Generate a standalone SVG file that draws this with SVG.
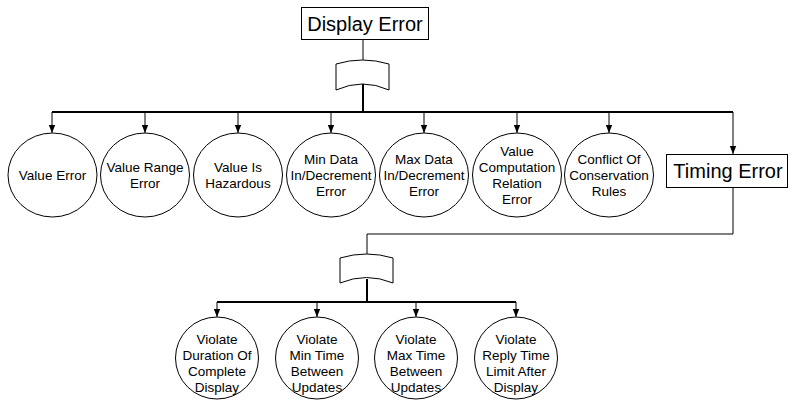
<svg xmlns="http://www.w3.org/2000/svg" width="789" height="401" viewBox="0 0 789 401">
  <style>
    .box { fill: #fff; stroke: #000; stroke-width: 1; }
    .node { fill: #fff; stroke: #000; stroke-width: 1; }
    .gate { fill: #fff; stroke: #000; stroke-width: 1; }
    .lbl { font-family: "Liberation Sans", Arial, sans-serif; font-size: 13.5px; text-anchor: middle; fill: #000; }
    .big { font-family: "Liberation Sans", Arial, sans-serif; font-size: 20px; text-anchor: middle; fill: #000; }
    .thin { fill: none; stroke: #000; stroke-width: 1; }
    .thick { fill: none; stroke: #000; stroke-width: 2; }
  </style>
  <defs>
    <marker id="arrow" viewBox="0 0 8 8" refX="8" refY="4" markerWidth="8" markerHeight="8" markerUnits="userSpaceOnUse" orient="auto">
      <path d="M0,0.8 L8,4 L0,7.2 Z" fill="#000"/>
    </marker>
  </defs>

  <g id="connectors">
    <!-- root to gate -->
    <line class="thin" x1="363" y1="40" x2="363" y2="60"/>
    <line class="thick" x1="363" y1="84" x2="363" y2="112"/>
    <line class="thick" x1="52" y1="112" x2="733" y2="112"/>
    <!-- drops to first-level children -->
    <line class="thin" x1="52" y1="112" x2="52" y2="133" marker-end="url(#arrow)"/>
    <line class="thin" x1="145" y1="112" x2="145" y2="133" marker-end="url(#arrow)"/>
    <line class="thin" x1="238" y1="112" x2="238" y2="133" marker-end="url(#arrow)"/>
    <line class="thin" x1="331" y1="112" x2="331" y2="133" marker-end="url(#arrow)"/>
    <line class="thin" x1="424" y1="112" x2="424" y2="133" marker-end="url(#arrow)"/>
    <line class="thin" x1="517" y1="112" x2="517" y2="133" marker-end="url(#arrow)"/>
    <line class="thin" x1="609" y1="112" x2="609" y2="133" marker-end="url(#arrow)"/>
    <line class="thin" x1="733" y1="112" x2="733" y2="154" marker-end="url(#arrow)"/>
    <!-- Timing Error to second gate -->
    <polyline class="thin" points="733,187 733,234 367,234 367,254"/>
    <line class="thick" x1="367" y1="279" x2="367" y2="302"/>
    <line class="thick" x1="217" y1="302" x2="516" y2="302"/>
    <line class="thin" x1="217" y1="302" x2="217" y2="317" marker-end="url(#arrow)"/>
    <line class="thin" x1="317" y1="302" x2="317" y2="317" marker-end="url(#arrow)"/>
    <line class="thin" x1="416" y1="302" x2="416" y2="317" marker-end="url(#arrow)"/>
    <line class="thin" x1="516" y1="302" x2="516" y2="317" marker-end="url(#arrow)"/>
  </g>

  <g id="display-error">
    <rect class="box" x="301.5" y="7.5" width="127" height="32"/>
    <text class="big" x="365" y="31">Display Error</text>
  </g>

  <g id="gate-display">
    <path class="gate" d="M336,64 Q362.5,56 389,64 L389,90 Q362.5,78 336,90 Z"/>
  </g>

  <g id="value-error">
    <ellipse class="node" cx="52.5" cy="175" rx="44.5" ry="42"/>
    <text class="lbl" x="52.5" y="180">Value Error</text>
  </g>
  <g id="value-range-error">
    <ellipse class="node" cx="145" cy="175" rx="44.5" ry="42"/>
    <text class="lbl" x="145" y="172">Value Range</text>
    <text class="lbl" x="145" y="188">Error</text>
  </g>
  <g id="value-is-hazardous">
    <ellipse class="node" cx="238" cy="175" rx="44.5" ry="42"/>
    <text class="lbl" x="238" y="172">Value Is</text>
    <text class="lbl" x="238" y="188">Hazardous</text>
  </g>
  <g id="min-data">
    <ellipse class="node" cx="331" cy="175" rx="44.5" ry="42"/>
    <text class="lbl" x="331" y="164">Min Data</text>
    <text class="lbl" x="331" y="180">In/Decrement</text>
    <text class="lbl" x="331" y="196">Error</text>
  </g>
  <g id="max-data">
    <ellipse class="node" cx="424" cy="175" rx="44.5" ry="42"/>
    <text class="lbl" x="424" y="164">Max Data</text>
    <text class="lbl" x="424" y="180">In/Decrement</text>
    <text class="lbl" x="424" y="196">Error</text>
  </g>
  <g id="value-computation">
    <ellipse class="node" cx="517" cy="175" rx="44.5" ry="42"/>
    <text class="lbl" x="517" y="156">Value</text>
    <text class="lbl" x="517" y="172">Computation</text>
    <text class="lbl" x="517" y="188">Relation</text>
    <text class="lbl" x="517" y="204">Error</text>
  </g>
  <g id="conflict-conservation">
    <ellipse class="node" cx="609" cy="175" rx="44.5" ry="42"/>
    <text class="lbl" x="609" y="164">Conflict Of</text>
    <text class="lbl" x="609" y="180">Conservation</text>
    <text class="lbl" x="609" y="196">Rules</text>
  </g>

  <g id="timing-error">
    <rect class="box" x="666.5" y="154.5" width="121" height="33"/>
    <text class="big" x="728" y="178">Timing Error</text>
  </g>

  <g id="gate-timing">
    <path class="gate" d="M340,258 Q366.5,250 393,258 L393,283 Q366.5,272 340,283 Z"/>
  </g>

  <g id="violate-duration">
    <ellipse class="node" cx="217" cy="358" rx="41.5" ry="41"/>
    <text class="lbl" x="217" y="344">Violate</text>
    <text class="lbl" x="217" y="360">Duration Of</text>
    <text class="lbl" x="217" y="376">Complete</text>
    <text class="lbl" x="217" y="392">Display</text>
  </g>
  <g id="violate-min-time">
    <ellipse class="node" cx="317" cy="358" rx="41.5" ry="41"/>
    <text class="lbl" x="317" y="344">Violate</text>
    <text class="lbl" x="317" y="360">Min Time</text>
    <text class="lbl" x="317" y="376">Between</text>
    <text class="lbl" x="317" y="392">Updates</text>
  </g>
  <g id="violate-max-time">
    <ellipse class="node" cx="416" cy="358" rx="41.5" ry="41"/>
    <text class="lbl" x="416" y="344">Violate</text>
    <text class="lbl" x="416" y="360">Max Time</text>
    <text class="lbl" x="416" y="376">Between</text>
    <text class="lbl" x="416" y="392">Updates</text>
  </g>
  <g id="violate-reply-time">
    <ellipse class="node" cx="516" cy="358" rx="41.5" ry="41"/>
    <text class="lbl" x="516" y="344">Violate</text>
    <text class="lbl" x="516" y="360">Reply Time</text>
    <text class="lbl" x="516" y="376">Limit After</text>
    <text class="lbl" x="516" y="392">Display</text>
  </g>
</svg>
